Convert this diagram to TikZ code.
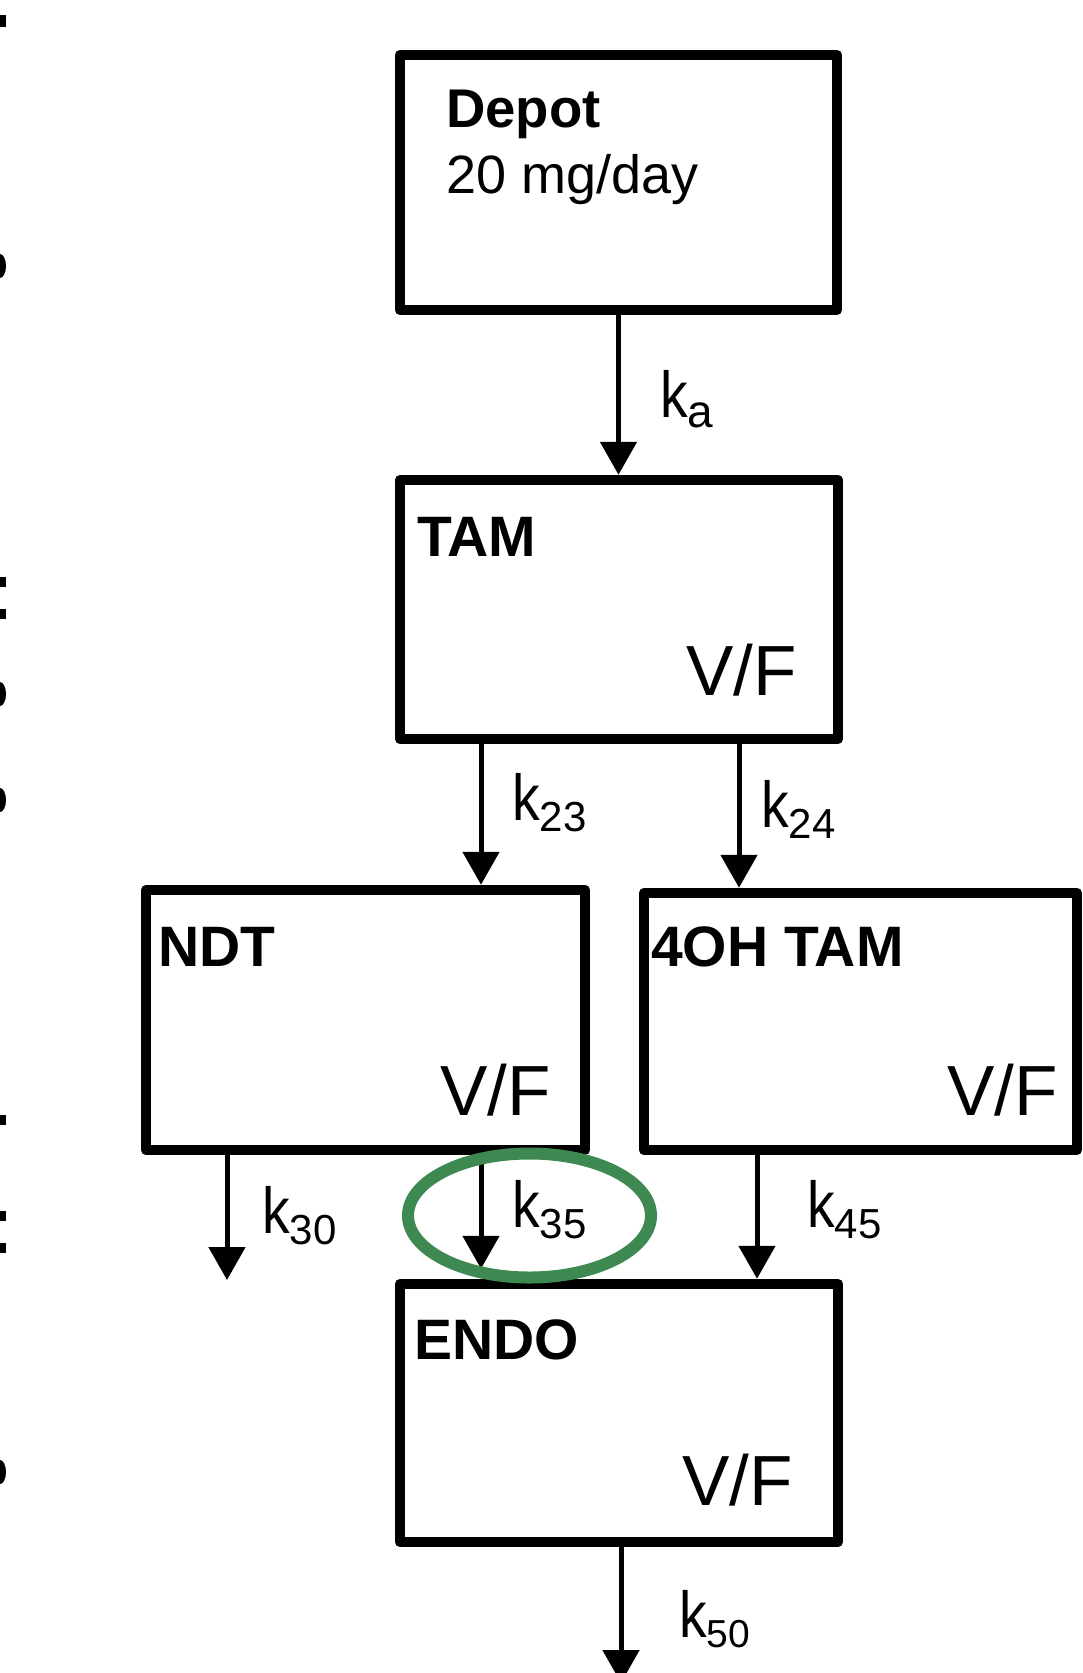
\documentclass[tikz,border=0pt]{standalone}
\usepackage{fontspec}
\usepackage{graphicx}
\setmainfont{Liberation Sans}
\usetikzlibrary{arrows.meta}
\definecolor{ringgreen}{RGB}{62,137,82}
\newcommand{\fsz}[1]{\fontsize{#1}{#1}\selectfont}
\newcommand{\rateK}[1]{{\fsz{65}\scalebox{0.85}[1]{k}}\raisebox{-11pt}{\fsz{42}#1}}
\begin{document}
\begin{tikzpicture}[x=1pt,y=-1pt,
  box/.style={draw=black,line width=10.5pt,line join=round,inner sep=0pt,fill=none},
  txt/.style={inner sep=0pt,anchor=base west},
  bold/.style={txt,font=\fsz{57}\bfseries},
  vf/.style={txt,font=\fsz{71}},
  arr/.style={line width=5pt,-{Triangle[width=36pt,length=33pt]}},
  frag/.style={fill=black,draw=none}]
\useasboundingbox (0,0) rectangle (1082,1673);
\fill[white] (0,0) rectangle (1082,1673);

% boxes
\node[box,minimum width=437pt,minimum height=255pt] (depot) at (618.5,182.5) {};
\node[box,minimum width=438pt,minimum height=259pt] (tam) at (619,609.5) {};
\node[box,minimum width=439pt,minimum height=260pt] (ndt) at (365.5,1020) {};
\node[box,minimum width=433pt,minimum height=257pt] (oh) at (860.5,1021.5) {};
\node[box,minimum width=438pt,minimum height=258pt] (endo) at (619,1413) {};

% box texts
\node[txt] (depotname) at (446,127) {\fsz{54.5}\bfseries Depot};
\node[txt] (depotdose) at (446,193) {\fsz{54}20 mg/day};
\node[bold] (tamname) at (417,556) {TAM};
\node[vf] (tamvf) at (686,695) {V/F};
\node[bold] (ndtname) at (158,966) {NDT};
\node[vf] (ndtvf) at (440,1115) {V/F};
\node[bold] (ohname) at (651,966) {4OH TAM};
\node[vf] (ohvf) at (947,1115) {V/F};
\node[bold] (endoname) at (414,1359) {ENDO};
\node[vf] (endovf) at (682,1505) {V/F};

% connectors
\coordinate (k30end) at (227,1280);
\coordinate (k50end) at (621,1683);
\draw[arr] (618.5,0 |- depot.south) -- (618.5,0 |- tam.north);
\draw[arr] (481,0 |- tam.south) -- (481,0 |- ndt.north);
\draw[arr] (739,0 |- tam.south) -- (739,0 |- oh.north);
\draw[arr] (227,0 |- ndt.south) -- (k30end);
\draw[arr,shorten >=10pt] (481,0 |- ndt.south) -- (481,0 |- endo.north);
\draw[arr] (757,0 |- oh.south) -- (757,0 |- endo.north);
\draw[arr] (621,0 |- endo.south) -- (k50end);

% rate labels
\node[txt] (ka) at (660,417) {{\fsz{65}\scalebox{0.85}[1]{k}}\raisebox{-10pt}{\fsz{46}a}};
\node[txt] (k23) at (512,820) {\rateK{23}};
\node[txt] (k24) at (761,827) {\rateK{24}};
\node[txt] (k30) at (262,1233) {\rateK{30}};
\node[txt] (k35) at (512,1227) {\rateK{35}};
\node[txt] (k45) at (807,1227) {\rateK{45}};
\node[txt] (k50) at (679,1637) {{\fsz{65}\scalebox{0.85}[1]{k}}\raisebox{-10pt}{\fsz{39}50}};

% highlight ring
\draw[ringgreen,line width=12pt] (529.5,1215.5) ellipse [x radius=121.5pt,y radius=62pt];

% cut-off fragments at the left edge
\fill[frag] (0,15) rectangle (6,27);
\fill[frag] (0,254) arc[start angle=90,end angle=-90,x radius=6pt,y radius=12pt] -- cycle;
\fill[frag] (0,577) rectangle (6,587);
\fill[frag] (0,609) rectangle (6,619);
\fill[frag] (0,682) arc[start angle=90,end angle=-90,x radius=6pt,y radius=12pt] -- cycle;
\fill[frag] (0,788) arc[start angle=90,end angle=-90,x radius=6pt,y radius=12pt] -- cycle;
\fill[frag] (0,1115) rectangle (6,1125);
\fill[frag] (0,1211) rectangle (6,1221);
\fill[frag] (0,1243) rectangle (6,1253);
\fill[frag] (0,1460) arc[start angle=90,end angle=-90,x radius=6pt,y radius=12pt] -- cycle;
\end{tikzpicture}
\end{document}
